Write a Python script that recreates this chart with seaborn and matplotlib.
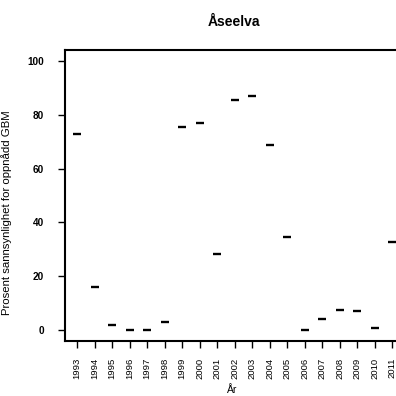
import matplotlib
matplotlib.use("Agg")
import matplotlib.pyplot as plt
import seaborn as sns

# Data
years = list(range(1993, 2012))
values = [72.7, 16.0, 1.7, 0.0, 0.0, 3.1, 75.4, 77.0, 28.4, 85.5, 87.1,
          68.8, 34.4, 0.0, 4.0, 7.3, 7.1, 0.6, 32.6]
year_labels = [str(y) for y in years]
y_ticks = [0, 20, 40, 60, 80, 100]

sns.set_style("white")
plt.rcParams['font.family'] = ['Liberation Sans', 'DejaVu Sans']
plt.rcParams['text.color'] = 'black'
plt.rcParams['xtick.color'] = 'black'
plt.rcParams['ytick.color'] = 'black'
plt.rcParams['axes.labelcolor'] = 'black'

fig = plt.figure(figsize=(3.96, 3.96), dpi=100)
ax = fig.add_axes([65 / 396, 55 / 396, 340 / 396, 291 / 396])

sns.scatterplot(x=years, y=values, marker='_', s=28, color='black',
                linewidth=1.7, ax=ax)

ax.set_xlim(1992.31, 2011.74)
ax.set_ylim(-4.1, 104.1)

ax.set_xticks(years)
ax.set_xticklabels(year_labels, rotation=90, fontsize=6.8)
ax.set_yticks(y_ticks)
ax.set_yticklabels([str(t) for t in y_ticks], fontsize=7.2, fontweight='bold')
ax.tick_params(axis='both', direction='out', length=5, width=1, color='black',
               bottom=True, left=True)
ax.tick_params(axis='x', pad=7)
ax.tick_params(axis='y', pad=10)

for side in ['left', 'top', 'bottom']:
    ax.spines[side].set_visible(True)
    ax.spines[side].set_linewidth(1.5)
    ax.spines[side].set_color('black')
ax.spines['right'].set_visible(False)

ax.set_xlabel('År', fontsize=7.5, va='center')
ax.xaxis.set_label_coords((232 - 65) / 340, (341 - 390) / 291)
ax.set_ylabel('Prosent sannsynlighet for oppnådd GBM', fontsize=8.2)
ax.yaxis.set_label_coords((12 - 65) / 340, (341 - 213) / 291)
fig.text(234 / 396, 1 - 22 / 396, 'Åseelva', ha='center', va='center',
         fontsize=10, fontweight='bold')

fig.savefig('out.png', dpi=100)
